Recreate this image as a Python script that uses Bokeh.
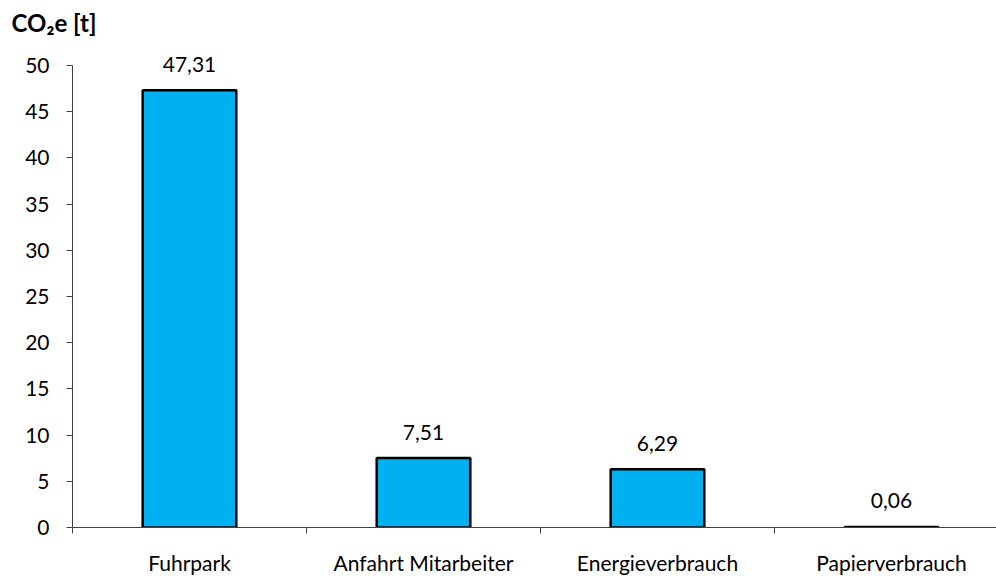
from bokeh.plotting import figure
from bokeh.models import ColumnDataSource, Range1d, FixedTicker, LabelSet
from bokeh.core.properties import value
from bokeh.embed import file_html
from bokeh.resources import INLINE

categories = ["Fuhrpark", "Anfahrt Mitarbeiter", "Energieverbrauch", "Papierverbrauch"]
values = [47.31, 7.51, 6.29, 0.06]
value_labels = ["47,31", "7,51", "6,29", "0,06"]
y_ticks = [0, 5, 10, 15, 20, 25, 30, 35, 40, 45, 50]
y_title = "CO₂e [t]"

FONT = "Lato"
FS = "21px"
x_pos = [i + 0.5 for i in range(len(categories))]
boundaries = [float(i) for i in range(len(categories))]

src = ColumnDataSource(dict(x=x_pos, top=values, lab=value_labels, cat=categories))

p = figure(width=996, height=577,
           x_range=Range1d(0, 3.9487), y_range=Range1d(0, 52.7),
           output_backend="svg", toolbar_location=None,
           min_border_left=72, min_border_right=0,
           min_border_top=40, min_border_bottom=43,
           title=y_title, title_location="above")
p.outline_line_color = None
p.grid.visible = False
p.background_fill_color = "white"
p.border_fill_color = "white"

p.title.align = "left"
p.title.offset = -61
p.title.standoff = 8
p.title.text_font = FONT
p.title.text_font_size = "24px"
p.title.text_font_style = "bold"
p.title.text_color = "black"

p.vbar(x="x", top="top", width=0.4, source=src,
       fill_color="#00B0F0", line_color="black", line_width=2.5)

p.add_layout(LabelSet(x="x", y="top", text="lab", source=src, y_offset=26,
                      text_align="center", text_baseline="middle",
                      text_font=value(FONT), text_font_size=value(FS),
                      text_color="black"))

xa = p.xaxis[0]
xa.ticker = FixedTicker(ticks=x_pos, minor_ticks=boundaries)
xa.major_label_overrides = {xv: c for xv, c in zip(x_pos, categories)}
xa.major_tick_out = 0
xa.major_tick_in = 0
xa.minor_tick_out = 6
xa.minor_tick_in = 0
xa.major_label_standoff = 16

ya = p.yaxis[0]
ya.ticker = FixedTicker(ticks=y_ticks)
ya.bounds = (0, 50)
ya.major_tick_out = 6
ya.major_tick_in = 0
ya.minor_tick_out = 0
ya.minor_tick_in = 0
ya.major_label_standoff = 17

for ax in (xa, ya):
    ax.axis_line_color = "#404040"
    ax.major_tick_line_color = "#404040"
    ax.minor_tick_line_color = "#404040"
    ax.major_label_text_font = FONT
    ax.major_label_text_font_size = FS
    ax.major_label_text_color = "black"

open("out.html", "w").write(file_html(p, INLINE))
